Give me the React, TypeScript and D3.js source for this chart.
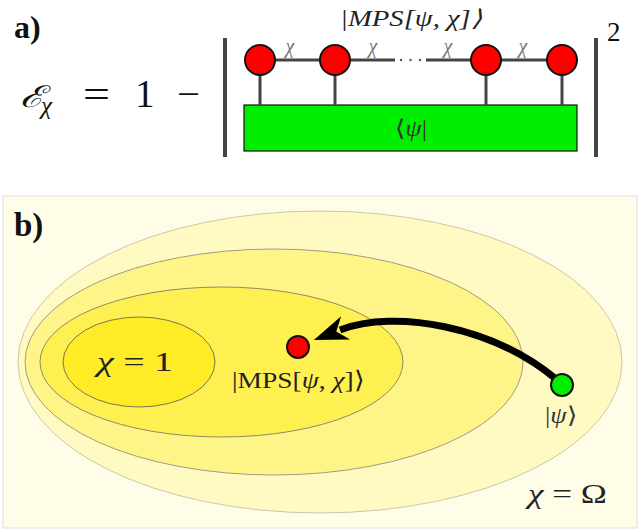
import React from "react";
import * as d3 from "d3";

// ---- content ----
const panelLabels = ["a)", "b)"];
const bondLabels = ["χ", "χ", "χ", "χ"];
const setLevels = ["Ω", "χ₃", "χ₂", "1"]; // nested sets outer -> inner
const setFills = ["#fffac2", "#fff488", "#fff052", "#ffec26"];
const setStrokes = ["#cbc7ab", "#a09c80", "#8e8a66", "#7a7652"];

const SERIF = "Liberation Serif";

export default function App() {
  const siteX = [260, 335, 486, 562];
  const yCirc = 60;
  const rCirc = 15;
  const rect = { x: 244, y: 105, w: 333, h: 46 };

  const ell = [
    { cx: 320, cy: 362, rx: 302, ry: 151 },
    { cx: 274, cy: 362, rx: 249, ry: 113 },
    { cx: 221.5, cy: 362, rx: 181.5, ry: 75 },
    { cx: 139, cy: 362, rx: 76, ry: 45 },
  ];

  const red = { x: 298, y: 347 };
  const green = { x: 562, y: 385 };

  // arrow path
  const S = { x: 556, y: 379 };
  const c1 = { x: 492, y: 326 };
  const c2 = { x: 395, y: 309 };
  const E = { x: 340, y: 330 };
  const p = d3.path();
  p.moveTo(S.x, S.y);
  p.bezierCurveTo(c1.x, c1.y, c2.x, c2.y, E.x, E.y);
  let dx = E.x - c2.x, dy = E.y - c2.y;
  const L = Math.hypot(dx, dy);
  dx /= L; dy /= L;
  const px = -dy, py = dx;
  const headLen = 31;
  const hw = 12.5;
  const tip = { x: E.x + dx * (headLen - 3), y: E.y + dy * (headLen - 3) };
  const base = { x: tip.x - dx * headLen, y: tip.y - dy * headLen };
  const head: [number, number][] = [
    [tip.x, tip.y],
    [base.x + px * hw - dx * 3, base.y + py * hw - dy * 3],
    [base.x + dx * 7, base.y + dy * 7],
    [base.x - px * hw - dx * 3, base.y - py * hw - dy * 3],
  ];
  const headPath = (d3.line()(head) as string) + "Z";

  const bondMid = [290, 373, 448, 523];
  const it = { fontStyle: "italic" as const };

  return (
    <svg
      width={641}
      height={531}
      viewBox="0 0 641 531"
      style={{ position: "absolute", left: 0, top: 0, display: "block", background: "#fff" }}
    >
      {/* ===== Panel a ===== */}
      <text x={14} y={38} fontFamily={SERIF} fontWeight="bold" fontSize={32} fill="#111">
        {panelLabels[0]}
      </text>
      <text x={20} y={107} fontFamily="DejaVu Serif" fontStyle="italic" fontSize={30} fill="#111" textLength={24} lengthAdjust="spacingAndGlyphs">
        ℰ
      </text>
      <text x={41} y={114} fontFamily={SERIF} fontStyle="italic" fontSize={25} fill="#111">
        χ
      </text>
      <text x={83} y={107} fontFamily={SERIF} fontSize={38} fill="#111" textLength={27} lengthAdjust="spacingAndGlyphs">
        =
      </text>
      <text x={135} y={107} fontFamily={SERIF} fontSize={39} fill="#111">
        1
      </text>
      <text x={177} y={107} fontFamily={SERIF} fontSize={38} fill="#111" textLength={23} lengthAdjust="spacingAndGlyphs">
        −
      </text>

      {/* absolute value bars */}
      <line x1={225} y1={38} x2={225} y2={157} stroke="#444" strokeWidth={4} />
      <line x1={596} y1={38} x2={596} y2={157} stroke="#444" strokeWidth={4} />
      <text x={607} y={41} fontFamily={SERIF} fontSize={27} fill="#111">
        2
      </text>

      {/* title */}
      <text x={340} y={26} fontFamily={SERIF} fontStyle="italic" fontSize={23} fill="#222" textLength={142} lengthAdjust="spacingAndGlyphs">
        |MPS[ψ, χ]⟩
      </text>

      {/* green rect */}
      <rect x={rect.x} y={rect.y} width={rect.w} height={rect.h} fill="#00ee00" stroke="#111" strokeWidth={1.2} />
      <text x={395} y={136} fontFamily={SERIF} fontSize={23} fill="#333" textLength={32} lengthAdjust="spacingAndGlyphs">
        ⟨<tspan {...it}>ψ</tspan>|
      </text>

      {/* legs */}
      {siteX.map((x, i) => (
        <line key={"leg" + i} x1={x} y1={yCirc} x2={x} y2={rect.y} stroke="#444" strokeWidth={3} />
      ))}
      {/* bonds */}
      <line x1={siteX[0]} y1={yCirc} x2={siteX[1]} y2={yCirc} stroke="#444" strokeWidth={3} />
      <line x1={siteX[1]} y1={yCirc} x2={395} y2={yCirc} stroke="#444" strokeWidth={3} />
      <line x1={426} y1={yCirc} x2={siteX[2]} y2={yCirc} stroke="#444" strokeWidth={3} />
      <line x1={siteX[2]} y1={yCirc} x2={siteX[3]} y2={yCirc} stroke="#444" strokeWidth={3} />
      {[401, 410.5, 420].map((x) => (
        <circle key={"dot" + x} cx={x} cy={yCirc} r={1.2} fill="#555" />
      ))}
      {bondLabels.map((b, i) => (
        <text key={"bl" + i} x={bondMid[i]} y={53} textAnchor="middle" fontFamily={SERIF} fontStyle="italic" fontSize={20} fill="#777">
          {b}
        </text>
      ))}
      {siteX.map((x, i) => (
        <circle key={"site" + i} cx={x} cy={yCirc} r={rCirc} fill="#ff0000" stroke="#111" strokeWidth={2} />
      ))}

      {/* ===== Panel b ===== */}
      <rect x={3} y={196} width={634} height={332} fill="#fffce8" stroke="#e4e4e4" strokeWidth={1.2} />
      {ell.map((e, i) => (
        <ellipse
          key={"e" + setLevels[i]}
          cx={e.cx}
          cy={e.cy}
          rx={e.rx}
          ry={e.ry}
          fill={setFills[i]}
          stroke={setStrokes[i]}
          strokeWidth={1}
        />
      ))}
      <text x={14} y={236} fontFamily={SERIF} fontWeight="bold" fontSize={33} fill="#111">
        {panelLabels[1]}
      </text>

      <text x={97} y={371} fontFamily={SERIF} fontSize={28} fill="#222" textLength={76} lengthAdjust="spacingAndGlyphs">
        <tspan {...it}>χ</tspan> = 1
      </text>
      <text x={528} y={503} fontFamily={SERIF} fontSize={28} fill="#222" textLength={79} lengthAdjust="spacingAndGlyphs">
        <tspan {...it}>χ</tspan> = Ω
      </text>

      {/* arrow */}
      <path d={p.toString()} fill="none" stroke="#000" strokeWidth={7} />
      <path d={headPath} fill="#000" />

      <circle cx={red.x} cy={red.y} r={11} fill="#ff0000" stroke="#111" strokeWidth={2} />
      <circle cx={green.x} cy={green.y} r={11} fill="#00ee00" stroke="#111" strokeWidth={2} />

      <text x={232} y={388} fontFamily={SERIF} fontSize={24} fill="#222" textLength={132} lengthAdjust="spacingAndGlyphs">
        |MPS[<tspan {...it}>ψ</tspan>, <tspan {...it}>χ</tspan>]⟩
      </text>
      <text x={545} y={423} fontFamily={SERIF} fontSize={23} fill="#333" textLength={32} lengthAdjust="spacingAndGlyphs">
        |<tspan {...it}>ψ</tspan>⟩
      </text>
    </svg>
  );
}
